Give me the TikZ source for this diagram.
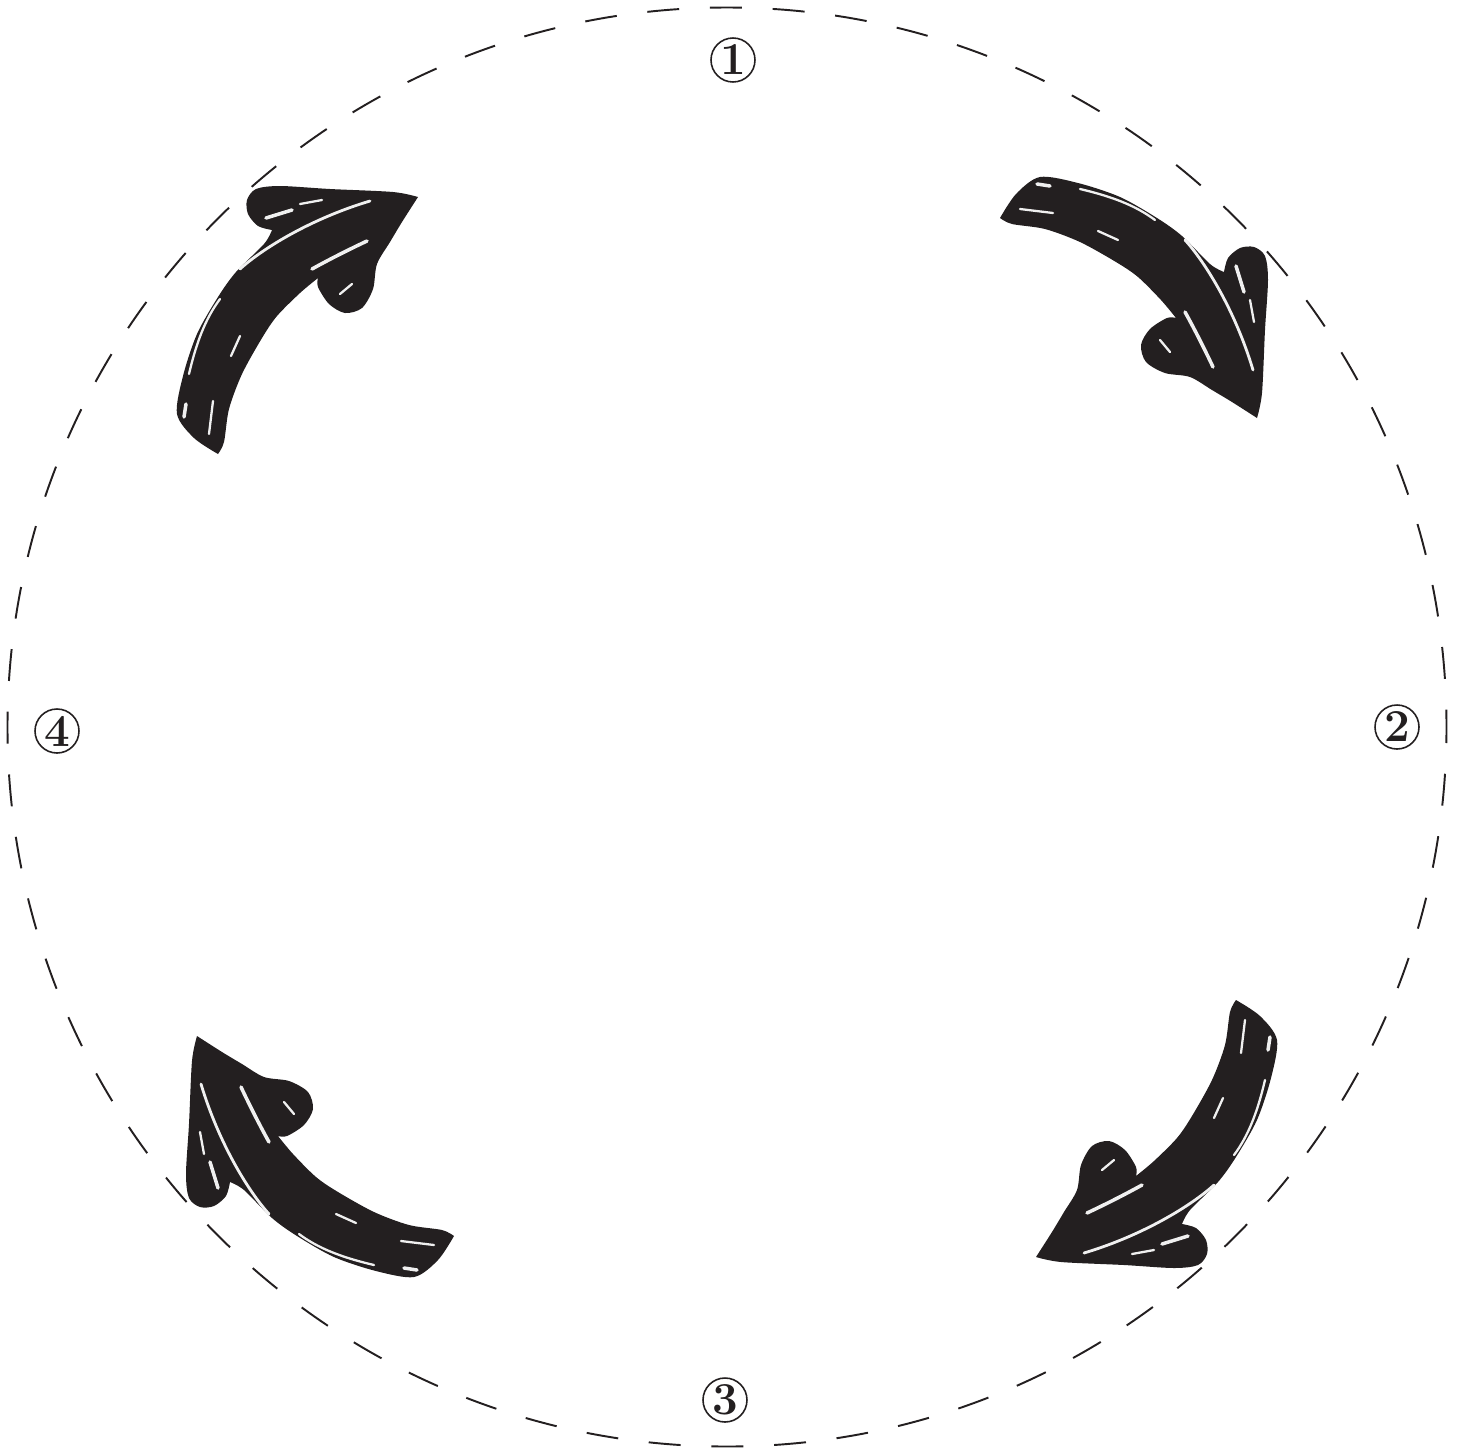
\documentclass[tikz,border=0pt]{standalone}
\usepackage{fontspec}
\usepackage{tikz}
\usetikzlibrary{positioning, calc}

\definecolor{ink}{RGB}{35,31,32}

\begin{document}
\begin{tikzpicture}[
    x=0.02cm, y=-0.02cm,
    ring/.style={draw=ink, line width=1.1pt, dash pattern=on 0.64cm off 0.6158cm, dash phase=0.32cm},
    num/.style={circle, draw=ink, line width=0.9pt, minimum size=0.88cm, inner sep=0pt, text=ink, font=\fontsize{26}{30}\selectfont\bfseries},
    brush/.style={fill=ink},
    streak/.style={draw=gray!12, line width=1.3pt, line cap=round},
]
    \useasboundingbox (0,0) rectangle (1461,1448);
    \coordinate (c) at (727,727);

    \draw[ring] (c) circle[radius=719.5];

    \node[num] (n1) at (733,60) {1};
    \node[num] (n2) at (1397,727) {2};
    \node[num] (n3) at (725,1400) {3};
    \node[num] (n4) at (57,731) {4};

    % one brush arrow, turned a quarter each time
    \foreach \r in {0,-90,-180,-270} {
    \begin{scope}[rotate around={\r:(c)}]
        \fill[brush] plot[smooth, tension=0.5] coordinates {(1000,218) (1016,194) (1040,177) (1078,183) (1120,197) (1157,218) (1182,236) (1210,264) (1224,272)}
            -- plot[smooth, tension=0.5] coordinates {(1224,272) (1228,258) (1240,248) (1254,247) (1265,256) (1268,280) (1265,330) (1262,393) (1257,418)}
            -- plot[smooth, tension=0.5] coordinates {(1257,418) (1232,402) (1212,390) (1190,377) (1165,373) (1146,362) (1141,345) (1150,329) (1167,318) (1176,318)}
            -- plot[smooth, tension=0.5] coordinates {(1176,318) (1161,300) (1138,277) (1116,262) (1080,242) (1045,229) (1012,224) (1000,218)} -- cycle;
        \draw[streak] (1080,189) .. controls (1110,196) and (1135,205) .. (1155,220);
        \draw[streak] (1020,209) -- (1053,213);
        \draw[streak] (1098,231) -- (1118,240);
        \draw[streak, line width=1.6pt] (1185,240) .. controls (1205,262) and (1235,310) .. (1253,370);
        \draw[streak, line width=2pt] (1185,312) .. controls (1195,330) and (1205,350) .. (1213,367);
        \draw[streak, line width=2pt] (1236,266) -- (1244,292);
        \draw[streak] (1250,300) -- (1254,322);
        \draw[streak, line width=2pt] (1037,184) -- (1050,186);
        \draw[streak] (1160,340) -- (1170,352);
    \end{scope}
    }
\end{tikzpicture}
\end{document}
